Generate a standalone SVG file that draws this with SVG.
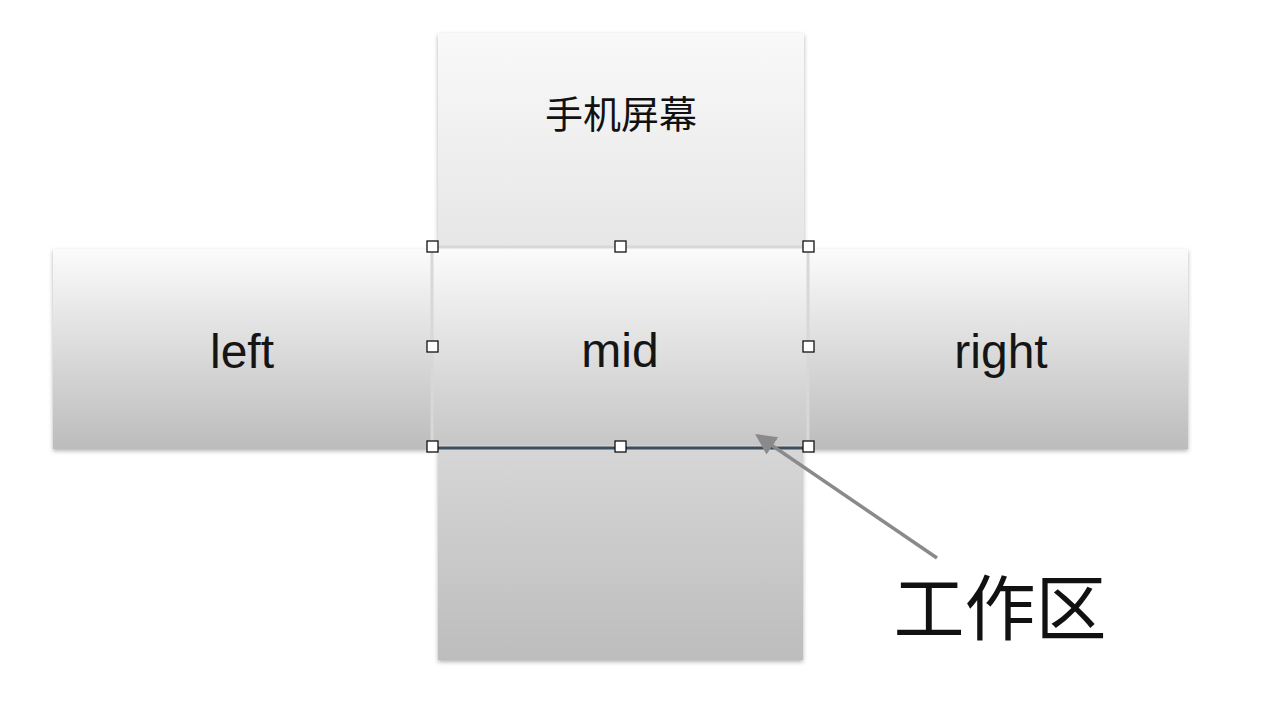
<svg xmlns="http://www.w3.org/2000/svg" width="1270" height="712" viewBox="0 0 1270 712">
<style>
.lbl{font-family:"Liberation Sans","Noto Sans",sans-serif;fill:#151515;text-anchor:middle}
.cjk{font-family:"Noto Sans CJK SC","Noto Sans",sans-serif;fill:#111;text-anchor:middle}
.h{fill:#fff;stroke:#111;stroke-width:1.3}
</style>
<defs>
<linearGradient id="gSide" x1="0" y1="0" x2="0" y2="1">
<stop offset="0" stop-color="#fbfbfb"/><stop offset="1" stop-color="#bcbcbc"/>
</linearGradient>
<linearGradient id="gMid" x1="0" y1="0" x2="0" y2="1">
<stop offset="0" stop-color="#fbfbfb"/><stop offset="1" stop-color="#c6c6c6"/>
</linearGradient>
<linearGradient id="gTop" x1="0" y1="0" x2="0" y2="1">
<stop offset="0" stop-color="#f9f9f9"/><stop offset="1" stop-color="#e6e6e6"/>
</linearGradient>
<linearGradient id="gBot" x1="0" y1="0" x2="0" y2="1">
<stop offset="0" stop-color="#d6d6d6"/><stop offset="1" stop-color="#bdbdbd"/>
</linearGradient>
<filter id="sh" x="-5%" y="-5%" width="110%" height="115%">
<feDropShadow dx="0" dy="2" stdDeviation="2" flood-color="#000" flood-opacity="0.3"/>
</filter>
<marker id="ah" markerWidth="6" markerHeight="6" refX="5" refY="3" orient="auto" markerUnits="strokeWidth">
<path d="M0,0 L6,3 L0,6 Z" fill="#8a8a8a"/>
</marker>
</defs>
<rect width="1270" height="712" fill="#fff"/>
<g id="phone-screen">
<rect x="438" y="33" width="366" height="215" fill="url(#gTop)" filter="url(#sh)"/>
<rect x="438" y="449" width="365" height="211" fill="url(#gBot)" filter="url(#sh)"/>
<text class="cjk" x="621" y="128" font-size="38">手机屏幕</text>
</g>
<g id="left">
<rect x="53" y="249" width="380" height="200" fill="url(#gSide)" filter="url(#sh)"/>
<text class="lbl" x="242" y="368" font-size="48">left</text>
</g>
<g id="right">
<rect x="808" y="249" width="380" height="200" fill="url(#gSide)" filter="url(#sh)"/>
<text class="lbl" x="1001" y="368" font-size="48">right</text>
</g>
<g id="mid">
<rect x="432" y="247" width="376" height="200" fill="url(#gMid)" stroke="#d8d8d8" stroke-width="3"/>
<line x1="432" y1="448" x2="808" y2="448" stroke="#3c4d5e" stroke-width="3"/>
<text class="lbl" x="620" y="367" font-size="48">mid</text>
<rect class="h" x="427" y="241" width="11" height="11"/>
<rect class="h" x="615" y="241" width="11" height="11"/>
<rect class="h" x="803" y="241" width="11" height="11"/>
<rect class="h" x="427" y="341" width="11" height="11"/>
<rect class="h" x="803" y="341" width="11" height="11"/>
<rect class="h" x="427" y="441" width="11" height="11"/>
<rect class="h" x="615" y="441" width="11" height="11"/>
<rect class="h" x="803" y="441" width="11" height="11"/>
</g>
<g id="connectors">
<line x1="937" y1="558" x2="758" y2="436" stroke="#8a8a8a" stroke-width="3.5" marker-end="url(#ah)"/>
</g>
<g id="workspace-label">
<text class="cjk" x="1000" y="634" font-size="71">工作区</text>
</g>
</svg>
